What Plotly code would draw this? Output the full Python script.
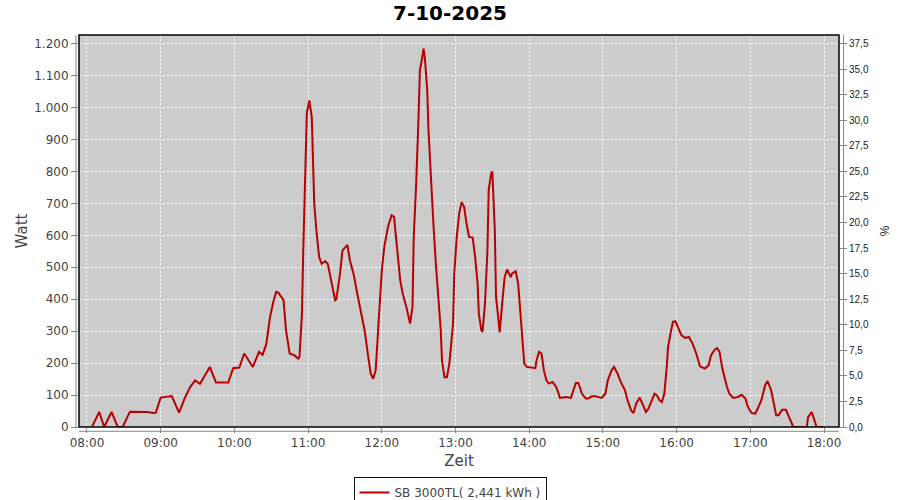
import plotly.graph_objects as go

DAY = "2025-10-07"

times = [
    "08:04", "08:10", "08:14", "08:20", "08:25", "08:29", "08:35", "08:49", "08:54", "08:56",
    "09:00", "09:05", "09:09", "09:15", "09:20", "09:24", "09:28", "09:32", "09:40", "09:45",
    "09:55", "09:59", "10:04", "10:08", "10:15", "10:20", "10:23", "10:26", "10:29", "10:32",
    "10:34", "10:36", "10:40", "10:42", "10:45", "10:49", "10:52", "10:53", "10:55", "10:56",
    "10:58", "10:59", "11:00", "11:01", "11:03", "11:04", "11:05", "11:07", "11:09", "11:11",
    "11:14", "11:16", "11:19", "11:22", "11:23", "11:26", "11:28", "11:32", "11:34", "11:37",
    "11:40", "11:43", "11:46", "11:49", "11:51", "11:53", "11:55", "11:57", "12:00", "12:02",
    "12:05", "12:08", "12:10", "12:11", "12:13", "12:15", "12:17", "12:20", "12:23", "12:25",
    "12:26", "12:28", "12:30", "12:31", "12:33", "12:34", "12:35", "12:37", "12:38", "12:40",
    "12:42", "12:44", "12:46", "12:48", "12:49", "12:51", "12:53", "12:55", "12:58", "12:59",
    "13:01", "13:03", "13:05", "13:07", "13:09", "13:11", "13:14", "13:16", "13:18", "13:19",
    "13:21", "13:22", "13:24", "13:26", "13:27", "13:29", "13:30", "13:32", "13:33", "13:35",
    "13:36", "13:38", "13:40", "13:42", "13:45", "13:46", "13:49", "13:51", "13:52", "13:54",
    "13:55", "13:56", "13:58", "14:02", "14:05", "14:06", "14:08", "14:10", "14:12", "14:14",
    "14:16", "14:19", "14:22", "14:24", "14:25", "14:30", "14:34", "14:36", "14:38", "14:40",
    "14:43", "14:46", "14:48", "14:51", "14:54", "14:59", "15:02", "15:04", "15:07", "15:09",
    "15:12", "15:14", "15:18", "15:20", "15:23", "15:25", "15:27", "15:30", "15:32", "15:35",
    "15:37", "15:40", "15:42", "15:44", "15:46", "15:48", "15:50", "15:52", "15:53", "15:55",
    "15:57", "15:59", "16:01", "16:04", "16:07", "16:10", "16:13", "16:16", "16:19", "16:23",
    "16:26", "16:28", "16:31", "16:33", "16:35", "16:37", "16:39", "16:41", "16:43", "16:46",
    "16:50", "16:53", "16:56", "16:58", "17:01", "17:04", "17:06", "17:09", "17:12", "17:14",
    "17:17", "17:19", "17:21", "17:23", "17:26", "17:29", "17:31", "17:33", "17:35", "17:46",
    "17:47", "17:50", "17:52", "17:54", "17:59",
]

watt = [
    0, 47, 0, 47, 0, 0, 48, 47, 44, 45,
    92, 94, 97, 45, 94, 125, 146, 135, 188, 139,
    139, 184, 186, 230, 188, 235, 226, 260, 344, 397,
    423, 420, 397, 303, 230, 224, 214, 220, 355, 543,
    793, 986, 1000, 1022, 970, 814, 699, 605, 532, 511,
    519, 511, 449, 397, 400, 480, 553, 570, 522, 480,
    418, 365, 303, 219, 167, 151, 177, 303, 490, 563,
    626, 663, 658, 616, 532, 459, 418, 376, 324, 376,
    595, 762, 981, 1116, 1158, 1184, 1158, 1054, 929, 772,
    637, 511, 407, 303, 209, 156, 156, 198, 324, 480,
    595, 668, 704, 689, 637, 595, 593, 532, 449, 355,
    303, 298, 386, 553, 741, 793, 800, 616, 407, 324,
    297, 386, 469, 493, 469, 480, 488, 449, 397, 324,
    240, 198, 188, 187, 184, 209, 235, 230, 177, 146,
    136, 141, 125, 104, 91, 94, 91, 115, 138, 138,
    104, 89, 89, 96, 96, 91, 104, 146, 177, 188,
    167, 146, 115, 84, 52, 44, 73, 92, 73, 47,
    57, 89, 104, 99, 84, 78, 104, 188, 250, 292,
    329, 331, 313, 287, 279, 282, 261, 230, 190, 183,
    193, 224, 242, 247, 235, 188, 156, 125, 104, 91,
    94, 101, 89, 63, 44, 42, 57, 84, 130, 144,
    115, 73, 37, 37, 54, 54, 37, 16, 0, 0,
    31, 47, 26, 0, 0,
]

series_name = "SB 3000TL( 2,441 kWh )"
title_text = "7-10-2025"

watt_ticks = [0, 100, 200, 300, 400, 500, 600, 700, 800, 900, 1000, 1100, 1200]
watt_labels = ["0", "100", "200", "300", "400", "500", "600", "700", "800", "900",
               "1.000", "1.100", "1.200"]
pct_ticks = [0, 2.5, 5, 7.5, 10, 12.5, 15, 17.5, 20, 22.5, 25, 27.5, 30, 32.5, 35, 37.5]
pct_labels = ["0,0", "2,5", "5,0", "7,5", "10,0", "12,5", "15,0", "17,5", "20,0",
              "22,5", "25,0", "27,5", "30,0", "32,5", "35,0", "37,5"]
hour_ticks = ["08:00", "09:00", "10:00", "11:00", "12:00", "13:00", "14:00",
              "15:00", "16:00", "17:00", "18:00"]

W_MAX = 1227
PCT_MAX = W_MAX / 32.0

x = [f"{DAY} {t}" for t in times]

fig = go.Figure()
fig.add_trace(go.Scatter(
    x=x, y=watt, mode="lines", name=series_name,
    line=dict(color="#b80000", width=2),
))
fig.add_trace(go.Scatter(x=[], y=[], yaxis="y2", showlegend=False, hoverinfo="skip"))

grid = dict(showgrid=True, gridcolor="white", griddash="2px,2px", gridwidth=1)

fig.update_layout(
    width=900, height=500,
    margin=dict(l=79, r=61, t=35, b=73, autoexpand=False),
    paper_bgcolor="white", plot_bgcolor="#cccccc",
    font=dict(family="DejaVu Sans", color="#444444", size=12),
    title=dict(text=title_text, x=0.5, xref="container", xanchor="center",
               y=1 - 13 / 500, yref="container", yanchor="middle", pad=dict(t=0, b=0),
               automargin=False,
               font=dict(family="DejaVu Sans", size=20, color="black", weight="bold")),
    xaxis=dict(
        type="date", automargin=False,
        range=[f"{DAY} 07:53:30", f"{DAY} 18:12:12"],
        tickvals=[f"{DAY} {h}" for h in hour_ticks],
        ticktext=hour_ticks,
        ticks="outside", ticklen=5, tickcolor="#888888",
        tickfont=dict(size=12, color="#444444"),
        title=dict(text="Zeit", font=dict(size=15, color="#444444"), standoff=6),
        zeroline=False, showline=False,
        **grid,
    ),
    yaxis=dict(
        range=[0, W_MAX], automargin=False,
        tickvals=watt_ticks, ticktext=watt_labels,
        ticks="outside", ticklen=7, tickcolor="#888888",
        tickfont=dict(size=12, color="#444444"),
        title=dict(text="Watt", font=dict(size=15, color="#444444"), standoff=2),
        zeroline=False, showline=False,
        **grid,
    ),
    yaxis2=dict(
        overlaying="y", side="right", range=[0, PCT_MAX], automargin=False,
        tickvals=pct_ticks, ticktext=pct_labels,
        ticks="outside", ticklen=7, tickcolor="#888888",
        tickfont=dict(family="Liberation Sans", size=10, color="#222222"),
        title=dict(text="%", font=dict(family="Liberation Sans", size=12, color="#222222"),
                   standoff=12),
        showgrid=False, zeroline=False, showline=False,
    ),
    showlegend=True,
    legend=dict(
        orientation="h", x=(450 - 79) / 760, xref="paper", xanchor="center",
        y=-50 / 392, yref="paper", yanchor="top",
        bordercolor="#111111", borderwidth=1, bgcolor="white",
        font=dict(size=12, color="#444444"),
        itemwidth=30, tracegroupgap=0,
    ),
    shapes=[
        dict(type="rect", xref="paper", yref="paper", x0=0, x1=1, y0=0, y1=1,
             line=dict(color="black", width=1.5), layer="above"),
        dict(type="line", xref="paper", yref="paper", x0=-0.004, x1=-0.004, y0=0, y1=1,
             line=dict(color="#888888", width=1)),
        dict(type="line", xref="paper", yref="paper", x0=1.006, x1=1.006, y0=0, y1=1,
             line=dict(color="#888888", width=1)),
        dict(type="line", xref="paper", yref="paper", x0=0, x1=1, y0=-0.011, y1=-0.011,
             line=dict(color="#888888", width=1)),
    ],
)

fig.write_html(
    "out.html",
    config={"displayModeBar": False},
    post_script="document.body.style.margin='0';document.body.style.overflow='hidden';",
)
